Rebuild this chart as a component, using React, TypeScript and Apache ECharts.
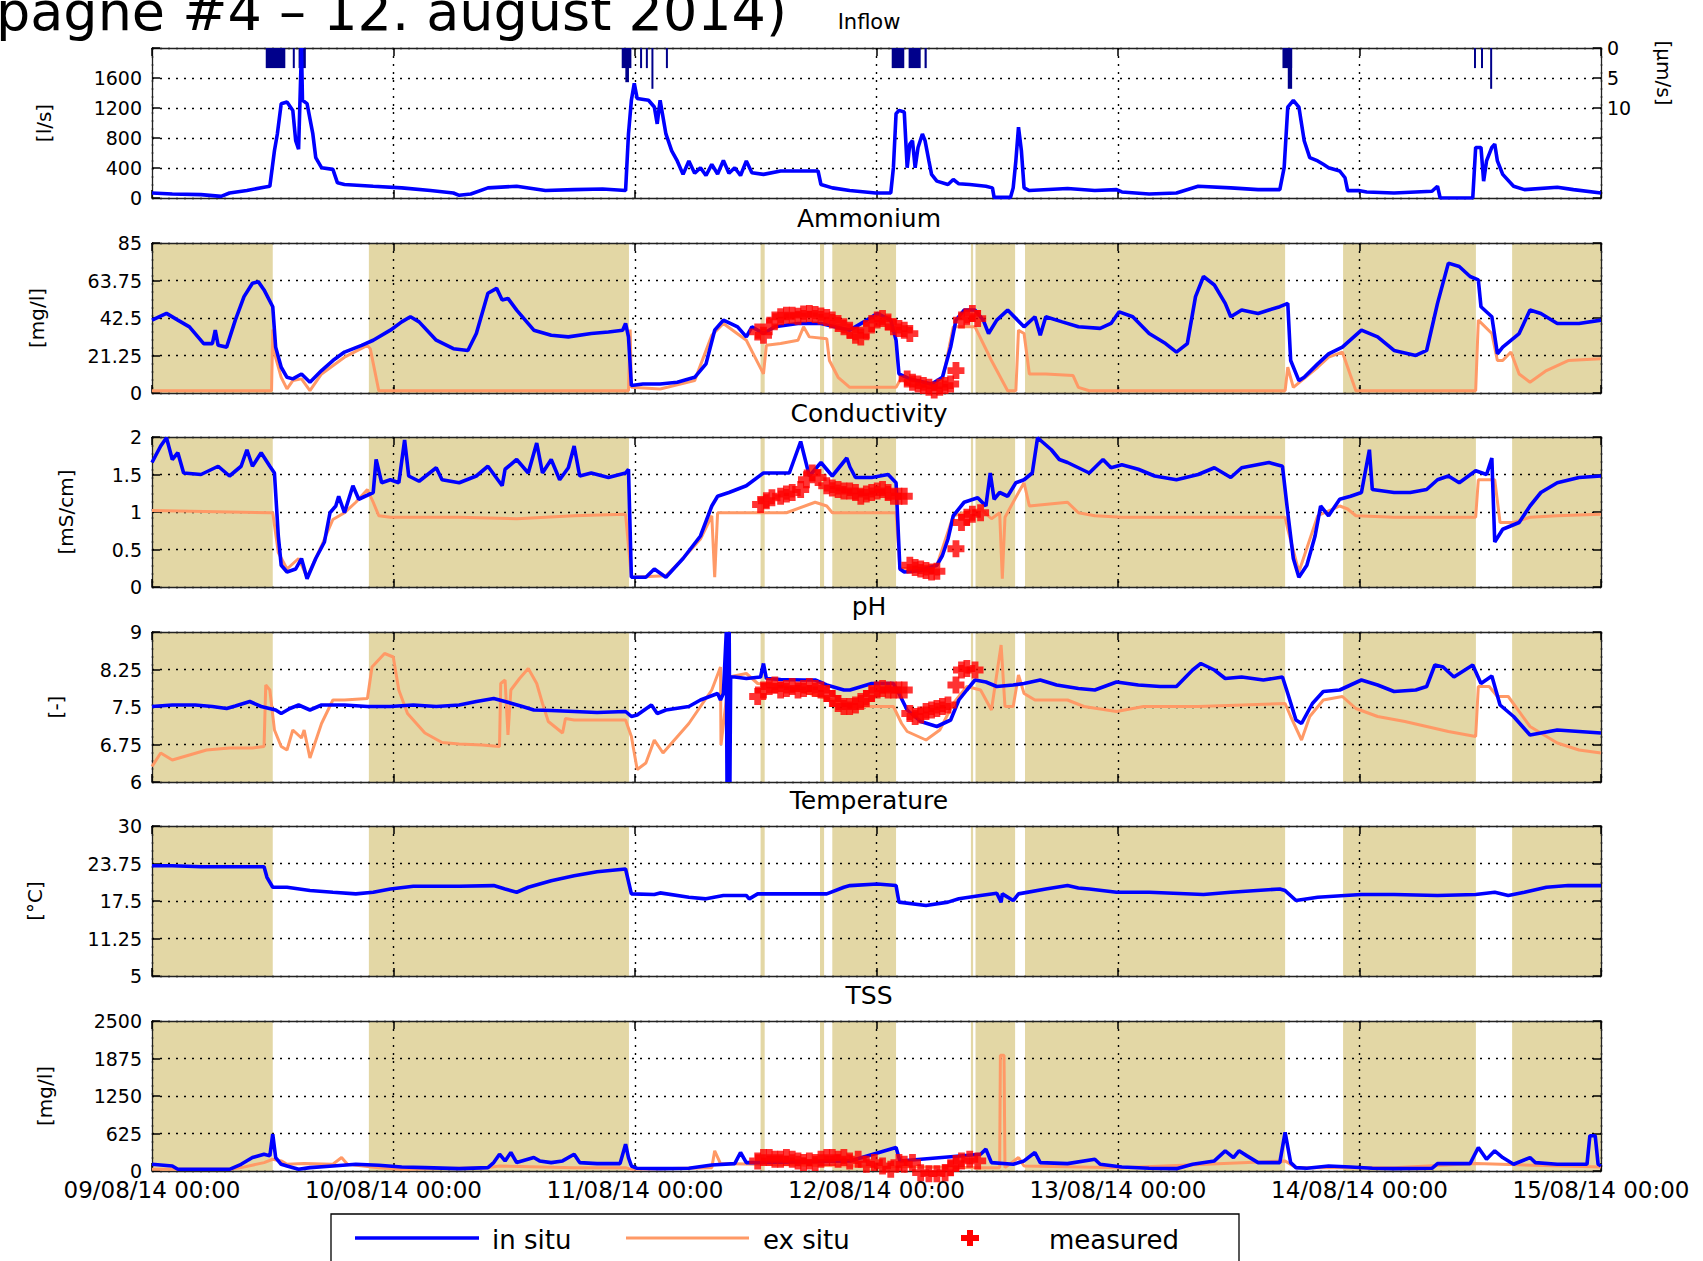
import React, { useEffect, useRef } from 'react';
import * as echarts from 'echarts';

// ---------------- texts ----------------
const HEADER = 'pagne #4 – 12. august 2014)';
const X_TICK_LABELS = ['09/08/14 00:00', '10/08/14 00:00', '11/08/14 00:00', '12/08/14 00:00', '13/08/14 00:00', '14/08/14 00:00', '15/08/14 00:00'];
const PANEL_TITLES = ['Inflow', 'Ammonium', 'Conductivity', 'pH', 'Temperature', 'TSS'];
const Y_UNITS = ['[l/s]', '[mg/l]', '[mS/cm]', '[-]', '[°C]', '[mg/l]'];
const RAIN_UNIT = '[µm/s]';
const LEGEND_LABELS = ['in situ', 'ex situ', 'measured'];

// y scales [min, max, interval]
const Y_SCALES = [[0, 2000, 400], [0, 85, 21.25], [0, 2, 0.5], [6, 9, 0.75], [5, 30, 6.25], [0, 2500, 625]];
const RAIN_SCALE = [0, 25, 5];
const Y_LABEL_LIMIT = [1600, 85, 2, 9, 30, 2500];
const RAIN_LABEL_LIMIT = 10;

// shaded periods (days since 09/08/14 00:00)
const BANDS = [[0, 0.5], [0.898, 1.975], [2.52, 2.537], [2.766, 2.783], [2.817, 3.081], [3.391, 3.4], [3.41, 3.574], [3.615, 4.692], [4.932, 5.482], [5.632, 6]];

// rain intensity [start day, end day, µm/s]
const RAIN = [[0.471, 0.552, 3.35], [0.583, 0.588, 3.35], [0.607, 0.612, 3.35], [0.618, 0.637, 3.35], [1.945, 1.985, 3.35], [1.96, 1.975, 5.7], [2.021, 2.026, 3.35], [2.045, 2.05, 3.35], [2.068, 2.073, 6.8], [2.128, 2.133, 3.35], [3.063, 3.115, 3.35], [3.133, 3.183, 3.35], [3.199, 3.208, 3.35], [4.681, 4.721, 3.35], [4.703, 4.721, 6.8], [5.474, 5.479, 3.35], [5.503, 5.508, 3.35], [5.541, 5.545, 6.8]];

const INFLOW_INSITU = [[0, 67], [0.084, 54], [0.203, 45], [0.286, 22], [0.321, 67], [0.393, 99], [0.464, 144], [0.488, 157], [0.507, 630], [0.519, 854], [0.535, 1258], [0.559, 1281], [0.583, 1168], [0.595, 764], [0.607, 650], [0.619, 2000], [0.623, 1303], [0.642, 1258], [0.666, 854], [0.678, 539], [0.702, 404], [0.749, 382], [0.768, 202], [0.797, 180], [0.916, 157], [1.034, 135], [1.153, 99], [1.248, 67], [1.272, 36], [1.32, 54], [1.391, 135], [1.51, 157], [1.629, 99], [1.748, 112], [1.866, 121], [1.961, 99], [1.973, 854], [1.985, 1303], [1.997, 1528], [2.009, 1326], [2.056, 1303], [2.08, 1213], [2.092, 989], [2.104, 1303], [2.128, 854], [2.152, 629], [2.175, 494], [2.199, 315], [2.223, 494], [2.247, 330], [2.271, 404], [2.294, 300], [2.318, 449], [2.342, 320], [2.366, 500], [2.389, 330], [2.413, 404], [2.437, 300], [2.461, 494], [2.484, 337], [2.532, 315], [2.603, 360], [2.698, 360], [2.758, 360], [2.77, 180], [2.817, 135], [2.889, 99], [2.996, 67], [3.059, 67], [3.07, 404], [3.081, 1124], [3.093, 1168], [3.115, 1146], [3.127, 404], [3.138, 719], [3.149, 764], [3.16, 404], [3.172, 674], [3.19, 854], [3.201, 764], [3.217, 494], [3.228, 315], [3.25, 225], [3.296, 180], [3.318, 247], [3.341, 189], [3.386, 180], [3.453, 157], [3.48, 135], [3.487, 9], [3.555, 9], [3.566, 135], [3.577, 494], [3.588, 944], [3.6, 629], [3.611, 135], [3.633, 99], [3.791, 126], [3.904, 99], [3.994, 112], [4.016, 81], [4.129, 54], [4.242, 67], [4.332, 157], [4.467, 135], [4.58, 112], [4.67, 112], [4.688, 404], [4.703, 1213], [4.726, 1303], [4.749, 1213], [4.771, 764], [4.794, 539], [4.827, 494], [4.85, 449], [4.872, 404], [4.918, 360], [4.94, 270], [4.951, 99], [4.996, 99], [5.03, 81], [5.143, 67], [5.3, 90], [5.323, 157], [5.334, 0], [5.469, 0], [5.481, 674], [5.503, 674], [5.514, 225], [5.526, 494], [5.548, 674], [5.56, 719], [5.571, 494], [5.593, 315], [5.638, 157], [5.683, 112], [5.819, 144], [5.886, 112], [6, 67]];

const NH4_INSITU = [[0, 41.3], [0.06, 45.1], [0.107, 41.3], [0.155, 37.5], [0.214, 28], [0.25, 28], [0.262, 35.6], [0.274, 27], [0.309, 26], [0.345, 41.3], [0.381, 54.6], [0.416, 62.2], [0.44, 63.1], [0.464, 58.4], [0.5, 48.9], [0.512, 26], [0.535, 14.6], [0.559, 8.9], [0.583, 8], [0.619, 10.8], [0.654, 6.1], [0.702, 12.7], [0.749, 18.4], [0.797, 23.2], [0.868, 27], [0.916, 29.9], [0.987, 35.6], [1.034, 40.3], [1.07, 43.2], [1.106, 40.3], [1.177, 29.9], [1.248, 25.1], [1.308, 24.1], [1.343, 33.7], [1.391, 56.5], [1.427, 59.3], [1.45, 52.7], [1.474, 53.6], [1.51, 47], [1.581, 35.6], [1.653, 32.7], [1.724, 31.8], [1.819, 33.7], [1.89, 34.6], [1.949, 35.6], [1.961, 39.4], [1.973, 31.8], [1.985, 4.2], [2.033, 5.1], [2.104, 5.1], [2.175, 6.1], [2.247, 8.9], [2.294, 16.5], [2.33, 35.6], [2.366, 41.3], [2.425, 37.5], [2.461, 31.8], [2.484, 37.5], [2.532, 33.7], [2.579, 37.5], [2.675, 39.4], [2.77, 39.4], [2.889, 35.6], [2.96, 41.3], [3.003, 45.1], [3.059, 41.3], [3.081, 29.9], [3.093, 10.8], [3.138, 8], [3.228, 5.1], [3.273, 8.9], [3.307, 26], [3.329, 41.3], [3.363, 47], [3.408, 47], [3.442, 41.3], [3.464, 33.7], [3.498, 41.3], [3.543, 47], [3.611, 37.5], [3.656, 43.2], [3.678, 32.7], [3.701, 43.2], [3.769, 40.3], [3.836, 37.5], [3.926, 36.6], [3.971, 39.4], [4.005, 46], [4.061, 43.2], [4.129, 33.7], [4.197, 28], [4.242, 23.2], [4.287, 28], [4.321, 54.6], [4.354, 66], [4.399, 61.2], [4.444, 50.8], [4.467, 43.2], [4.512, 47], [4.58, 45.1], [4.625, 47], [4.67, 48.9], [4.703, 50.8], [4.715, 18.4], [4.749, 7], [4.771, 8.9], [4.827, 16.5], [4.872, 22.2], [4.929, 26], [5.008, 35.6], [5.075, 31.8], [5.143, 24.1], [5.233, 21.3], [5.278, 24.1], [5.323, 50.8], [5.368, 73.6], [5.413, 71.7], [5.458, 66], [5.492, 64.1], [5.503, 48.9], [5.548, 43.2], [5.571, 22.2], [5.593, 26], [5.661, 33.7], [5.706, 47], [5.751, 45.1], [5.819, 39.4], [5.909, 39.4], [6, 41.3]];

const NH4_EXSITU = [[0, 1.3], [0.495, 1.3], [0.5, 36], [0.512, 20], [0.535, 8.9], [0.559, 2.3], [0.583, 7], [0.619, 8], [0.654, 1.3], [0.702, 10.8], [0.797, 20.3], [0.892, 27], [0.904, 25], [0.939, 1.3], [1.973, 1.3], [1.98, 36], [1.985, 3.2], [2.104, 2.3], [2.247, 7], [2.318, 32.7], [2.366, 39.4], [2.461, 29.9], [2.532, 10.8], [2.544, 27], [2.603, 28], [2.675, 29.9], [2.698, 37.5], [2.722, 31.8], [2.794, 30.8], [2.805, 18.4], [2.841, 8.9], [2.889, 3.2], [3.081, 3.2], [3.104, 8.9], [3.127, 5.1], [3.183, 3.2], [3.273, 7], [3.318, 37.5], [3.408, 37.5], [3.476, 18.4], [3.543, 1.3], [3.577, 1.3], [3.588, 35.6], [3.611, 33.7], [3.633, 10.8], [3.701, 10.8], [3.814, 9.9], [3.836, 3.2], [3.881, 1.3], [4.692, 1.3], [4.703, 14.6], [4.726, 3.2], [4.76, 7], [4.827, 14.6], [4.872, 20.3], [4.929, 23.2], [4.985, 1.3], [5.481, 1.3], [5.492, 41.3], [5.548, 33.7], [5.571, 18.4], [5.593, 18.4], [5.627, 23.2], [5.661, 10.8], [5.706, 6.1], [5.774, 12.7], [5.864, 18.4], [6, 19.4]];

const NH4_MEASURED = [[2.508, 34.6], [2.532, 32.7], [2.556, 37.5], [2.579, 41.3], [2.603, 43.2], [2.627, 44.1], [2.651, 44.1], [2.675, 43.5], [2.698, 44.7], [2.722, 45.1], [2.746, 44.5], [2.77, 43.7], [2.794, 42.8], [2.817, 41.3], [2.841, 39.4], [2.865, 37.5], [2.889, 35.6], [2.913, 32.7], [2.935, 31.8], [2.958, 35.6], [2.98, 39.4], [3.003, 41.3], [3.025, 42.2], [3.048, 40.3], [3.07, 37.5], [3.093, 36.5], [3.115, 35.6], [3.138, 33.7], [3.127, 8], [3.149, 6.1], [3.172, 5.1], [3.194, 4.2], [3.217, 3.2], [3.239, 1.7], [3.262, 3.2], [3.284, 4.2], [3.307, 5.1], [3.329, 12.7], [3.352, 41.3], [3.374, 43.2], [3.397, 45.1], [3.419, 42.2]];

const COND_INSITU = [[0, 1.66], [0.036, 1.88], [0.06, 1.99], [0.084, 1.7], [0.107, 1.79], [0.131, 1.52], [0.203, 1.5], [0.274, 1.61], [0.321, 1.48], [0.369, 1.61], [0.393, 1.83], [0.416, 1.61], [0.452, 1.79], [0.488, 1.61], [0.507, 1.52], [0.523, 0.68], [0.535, 0.29], [0.559, 0.2], [0.595, 0.24], [0.619, 0.38], [0.642, 0.11], [0.678, 0.38], [0.714, 0.6], [0.737, 0.99], [0.761, 1.08], [0.773, 1.21], [0.797, 0.99], [0.832, 1.35], [0.856, 1.17], [0.916, 1.26], [0.928, 1.7], [0.951, 1.39], [0.987, 1.43], [1.022, 1.39], [1.046, 1.96], [1.063, 1.48], [1.106, 1.41], [1.177, 1.59], [1.201, 1.43], [1.272, 1.39], [1.343, 1.48], [1.391, 1.61], [1.45, 1.35], [1.462, 1.57], [1.51, 1.7], [1.558, 1.52], [1.593, 1.92], [1.617, 1.52], [1.653, 1.7], [1.688, 1.43], [1.724, 1.59], [1.748, 1.88], [1.771, 1.48], [1.819, 1.52], [1.89, 1.46], [1.961, 1.52], [1.973, 1.57], [1.985, 0.13], [2.045, 0.13], [2.08, 0.24], [2.128, 0.13], [2.199, 0.38], [2.271, 0.68], [2.318, 1.08], [2.342, 1.21], [2.389, 1.26], [2.461, 1.35], [2.532, 1.52], [2.603, 1.52], [2.639, 1.52], [2.686, 1.94], [2.722, 1.48], [2.77, 1.66], [2.817, 1.48], [2.877, 1.72], [2.89, 1.6], [2.913, 1.46], [2.98, 1.46], [3.048, 1.5], [3.081, 1.39], [3.097, 0.24], [3.115, 0.2], [3.183, 0.22], [3.25, 0.29], [3.273, 0.42], [3.296, 0.64], [3.318, 0.95], [3.363, 1.13], [3.419, 1.19], [3.453, 1.08], [3.471, 1.52], [3.487, 1.17], [3.51, 1.26], [3.543, 1.21], [3.577, 1.39], [3.611, 1.43], [3.645, 1.52], [3.667, 1.99], [3.724, 1.83], [3.757, 1.7], [3.791, 1.66], [3.836, 1.59], [3.881, 1.52], [3.938, 1.7], [3.971, 1.59], [4.016, 1.63], [4.084, 1.57], [4.152, 1.48], [4.242, 1.43], [4.332, 1.5], [4.399, 1.59], [4.467, 1.46], [4.512, 1.59], [4.625, 1.66], [4.681, 1.61], [4.703, 0.99], [4.726, 0.38], [4.749, 0.13], [4.782, 0.29], [4.816, 0.68], [4.839, 1.08], [4.872, 0.95], [4.918, 1.17], [4.963, 1.21], [5.008, 1.26], [5.041, 1.83], [5.053, 1.3], [5.143, 1.26], [5.21, 1.26], [5.278, 1.3], [5.323, 1.43], [5.368, 1.48], [5.413, 1.39], [5.481, 1.55], [5.526, 1.5], [5.548, 1.72], [5.56, 0.6], [5.593, 0.77], [5.661, 0.86], [5.706, 1.08], [5.751, 1.26], [5.819, 1.39], [5.909, 1.46], [6, 1.48]];

const COND_EXSITU = [[0, 1.02], [0.488, 0.99], [0.5, 0.99], [0.523, 0.46], [0.559, 0.24], [0.607, 0.38], [0.642, 0.13], [0.702, 0.55], [0.749, 0.9], [0.797, 0.99], [0.844, 1.13], [0.892, 1.3], [0.916, 1.13], [0.939, 0.95], [0.987, 0.93], [1.272, 0.93], [1.51, 0.91], [1.748, 0.95], [1.961, 0.97], [1.985, 0.13], [2.128, 0.15], [2.199, 0.38], [2.271, 0.64], [2.318, 0.95], [2.33, 0.13], [2.342, 0.99], [2.532, 0.99], [2.627, 0.99], [2.746, 1.13], [2.794, 1.08], [2.817, 0.99], [3.081, 0.99], [3.097, 0.24], [3.25, 0.29], [3.318, 0.95], [3.363, 0.99], [3.431, 1.04], [3.476, 0.91], [3.51, 0.99], [3.521, 0.11], [3.532, 0.93], [3.588, 1.26], [3.611, 1.39], [3.633, 1.08], [3.791, 1.13], [3.836, 0.99], [3.904, 0.95], [4.016, 0.93], [4.692, 0.93], [4.703, 0.77], [4.749, 0.2], [4.827, 0.95], [4.918, 1.08], [4.951, 1.04], [4.985, 0.95], [5.143, 0.93], [5.481, 0.93], [5.492, 1.43], [5.56, 1.43], [5.582, 0.86], [5.638, 0.86], [5.706, 0.93], [5.819, 0.95], [6, 0.97]];

const COND_MEASURED = [[2.52, 1.1], [2.544, 1.15], [2.567, 1.19], [2.603, 1.21], [2.627, 1.24], [2.651, 1.26], [2.686, 1.3], [2.71, 1.43], [2.734, 1.52], [2.758, 1.46], [2.794, 1.35], [2.817, 1.32], [2.841, 1.3], [2.865, 1.28], [2.889, 1.28], [2.913, 1.26], [2.935, 1.21], [2.958, 1.24], [2.98, 1.26], [3.003, 1.28], [3.025, 1.3], [3.048, 1.26], [3.07, 1.21], [3.093, 1.21], [3.115, 1.21], [3.138, 0.29], [3.16, 0.26], [3.183, 0.24], [3.205, 0.22], [3.228, 0.2], [3.25, 0.21], [3.329, 0.51], [3.352, 0.86], [3.374, 0.93], [3.397, 0.97], [3.431, 0.99]];

const PH_INSITU = [[0, 7.51], [0.084, 7.54], [0.179, 7.54], [0.25, 7.51], [0.309, 7.47], [0.345, 7.52], [0.405, 7.61], [0.452, 7.51], [0.512, 7.44], [0.535, 7.37], [0.571, 7.47], [0.607, 7.54], [0.654, 7.44], [0.702, 7.54], [0.797, 7.54], [0.892, 7.51], [0.987, 7.51], [1.082, 7.54], [1.177, 7.51], [1.272, 7.54], [1.343, 7.61], [1.415, 7.67], [1.462, 7.61], [1.534, 7.51], [1.581, 7.44], [1.653, 7.43], [1.748, 7.41], [1.843, 7.39], [1.961, 7.41], [1.985, 7.31], [2.009, 7.34], [2.068, 7.54], [2.092, 7.37], [2.128, 7.44], [2.223, 7.51], [2.271, 7.64], [2.342, 7.77], [2.354, 7.64], [2.366, 7.77], [2.378, 9], [2.381, 6], [2.384, 9], [2.387, 6], [2.39, 9], [2.393, 6], [2.396, 8.1], [2.413, 8.1], [2.461, 8.07], [2.52, 8.1], [2.532, 8.37], [2.544, 8.07], [2.603, 8.05], [2.698, 8.04], [2.746, 8.04], [2.794, 7.94], [2.865, 7.84], [2.89, 7.84], [2.98, 7.97], [3.07, 7.97], [3.093, 7.77], [3.127, 7.44], [3.183, 7.21], [3.25, 7.11], [3.307, 7.24], [3.341, 7.64], [3.374, 7.84], [3.408, 8.04], [3.453, 8], [3.498, 7.91], [3.566, 7.94], [3.611, 7.97], [3.678, 8.04], [3.746, 7.94], [3.836, 7.87], [3.904, 7.84], [3.994, 8], [4.084, 7.94], [4.174, 7.91], [4.242, 7.91], [4.309, 8.24], [4.343, 8.37], [4.399, 8.24], [4.444, 8.07], [4.512, 8.1], [4.602, 8.04], [4.681, 8.1], [4.703, 7.77], [4.737, 7.24], [4.76, 7.17], [4.805, 7.57], [4.85, 7.81], [4.918, 7.84], [5.008, 8.04], [5.075, 7.94], [5.143, 7.81], [5.233, 7.84], [5.278, 7.91], [5.312, 8.34], [5.346, 8.3], [5.391, 8.1], [5.469, 8.34], [5.503, 7.97], [5.548, 8.12], [5.582, 7.54], [5.638, 7.31], [5.706, 6.94], [5.751, 6.98], [5.819, 7.04], [5.909, 7.01], [6, 6.98]];

const PH_EXSITU = [[0, 6.31], [0.036, 6.58], [0.084, 6.44], [0.155, 6.54], [0.226, 6.64], [0.321, 6.68], [0.416, 6.68], [0.464, 6.71], [0.471, 7.94], [0.488, 7.84], [0.507, 7.04], [0.535, 6.71], [0.559, 6.64], [0.583, 7.04], [0.619, 6.88], [0.63, 7.04], [0.654, 6.48], [0.702, 7.17], [0.749, 7.64], [0.797, 7.64], [0.892, 7.67], [0.911, 8.3], [0.963, 8.57], [0.999, 8.5], [1.022, 7.84], [1.058, 7.37], [1.13, 6.98], [1.201, 6.79], [1.272, 6.76], [1.367, 6.74], [1.439, 6.71], [1.444, 7.97], [1.462, 8.04], [1.474, 6.94], [1.486, 7.84], [1.522, 8.07], [1.558, 8.27], [1.593, 7.97], [1.617, 7.57], [1.641, 7.21], [1.7, 6.98], [1.712, 7.27], [1.748, 7.24], [1.961, 7.24], [1.985, 6.91], [2.009, 6.25], [2.045, 6.38], [2.08, 6.84], [2.116, 6.58], [2.223, 7.17], [2.318, 7.84], [2.354, 8.3], [2.356, 6.74], [2.389, 8.1], [2.461, 8.17], [2.508, 7.97], [2.603, 7.94], [2.817, 7.64], [2.89, 7.51], [3.07, 7.51], [3.104, 7.17], [3.127, 7.01], [3.205, 6.84], [3.262, 7.04], [3.318, 7.57], [3.374, 7.91], [3.431, 7.84], [3.476, 7.44], [3.516, 8.74], [3.532, 7.51], [3.566, 7.51], [3.588, 8.14], [3.611, 7.77], [3.656, 7.64], [3.791, 7.64], [3.859, 7.51], [3.994, 7.41], [4.106, 7.51], [4.332, 7.51], [4.692, 7.57], [4.715, 7.31], [4.76, 6.84], [4.794, 7.31], [4.85, 7.64], [4.929, 7.71], [4.985, 7.47], [5.075, 7.31], [5.188, 7.21], [5.368, 7.01], [5.481, 6.91], [5.492, 7.91], [5.537, 7.91], [5.571, 7.71], [5.616, 7.71], [5.706, 7.11], [5.819, 6.78], [5.909, 6.64], [6, 6.58]];

const PH_MEASURED = [[2.508, 7.71], [2.532, 7.84], [2.556, 7.91], [2.579, 7.94], [2.603, 7.84], [2.627, 7.87], [2.651, 7.91], [2.675, 7.84], [2.698, 7.87], [2.722, 7.91], [2.746, 7.87], [2.77, 7.84], [2.794, 7.77], [2.817, 7.67], [2.841, 7.57], [2.865, 7.51], [2.889, 7.51], [2.913, 7.54], [2.935, 7.61], [2.958, 7.67], [2.98, 7.77], [3.003, 7.84], [3.025, 7.87], [3.048, 7.84], [3.07, 7.84], [3.093, 7.84], [3.115, 7.84], [3.138, 7.37], [3.16, 7.31], [3.183, 7.34], [3.205, 7.41], [3.228, 7.44], [3.25, 7.47], [3.273, 7.51], [3.296, 7.54], [3.329, 7.94], [3.352, 8.24], [3.374, 8.27], [3.408, 8.24]];

const TEMP_INSITU = [[0, 23.38], [0.084, 23.38], [0.203, 23.21], [0.321, 23.21], [0.464, 23.21], [0.476, 21.45], [0.5, 19.79], [0.559, 19.79], [0.654, 19.24], [0.749, 18.96], [0.844, 18.69], [0.916, 18.96], [0.987, 19.51], [1.082, 19.96], [1.272, 19.96], [1.415, 20.07], [1.462, 19.51], [1.51, 18.96], [1.558, 19.79], [1.653, 20.89], [1.748, 21.72], [1.843, 22.38], [1.961, 22.83], [1.985, 18.69], [2.08, 18.58], [2.104, 18.85], [2.223, 18.13], [2.294, 17.86], [2.366, 18.41], [2.461, 18.41], [2.473, 17.86], [2.508, 18.69], [2.698, 18.69], [2.794, 18.69], [2.865, 19.79], [2.89, 20.07], [3.003, 20.34], [3.081, 20.07], [3.093, 17.31], [3.205, 16.76], [3.296, 17.31], [3.341, 17.86], [3.431, 18.41], [3.498, 18.8], [3.516, 17.31], [3.521, 18.69], [3.566, 17.58], [3.588, 18.69], [3.701, 19.51], [3.791, 20.07], [3.836, 19.68], [3.881, 19.51], [3.994, 18.96], [4.129, 18.96], [4.354, 18.58], [4.467, 18.96], [4.67, 19.51], [4.692, 19.24], [4.737, 17.58], [4.827, 18.13], [4.94, 18.41], [5.008, 18.58], [5.143, 18.58], [5.323, 18.41], [5.481, 18.58], [5.56, 18.96], [5.616, 18.41], [5.683, 18.96], [5.774, 19.79], [5.864, 20.07], [6, 20.07]];

const TSS_INSITU = [[0, 112], [0.084, 84], [0.107, 28], [0.321, 28], [0.369, 112], [0.416, 224], [0.464, 280], [0.488, 252], [0.5, 615], [0.512, 224], [0.535, 112], [0.559, 84], [0.607, 28], [0.654, 56], [0.749, 84], [0.844, 112], [0.939, 95], [1.034, 67], [1.13, 56], [1.272, 39], [1.391, 56], [1.415, 140], [1.439, 280], [1.462, 168], [1.486, 308], [1.51, 140], [1.581, 224], [1.605, 168], [1.653, 140], [1.7, 168], [1.748, 280], [1.771, 140], [1.843, 123], [1.938, 123], [1.961, 447], [1.973, 224], [1.985, 84], [2.009, 45], [2.104, 39], [2.223, 45], [2.318, 101], [2.413, 123], [2.437, 308], [2.461, 140], [2.508, 140], [2.89, 168], [3.081, 392], [3.097, 168], [3.431, 280], [3.453, 364], [3.476, 140], [3.566, 112], [3.611, 168], [3.656, 308], [3.678, 140], [3.791, 123], [3.904, 196], [3.926, 112], [4.016, 67], [4.129, 45], [4.242, 39], [4.309, 112], [4.399, 168], [4.444, 336], [4.478, 224], [4.501, 336], [4.534, 252], [4.58, 140], [4.67, 140], [4.692, 643], [4.715, 140], [4.737, 56], [4.782, 45], [4.872, 84], [4.963, 67], [5.053, 45], [5.143, 39], [5.3, 45], [5.323, 123], [5.458, 123], [5.492, 392], [5.526, 196], [5.56, 336], [5.593, 224], [5.638, 112], [5.706, 224], [5.728, 140], [5.819, 112], [5.942, 112], [5.954, 587], [5.976, 587], [5.988, 112], [6, 84]];

const TSS_EXSITU = [[0, 28], [0.321, 28], [0.369, 56], [0.464, 140], [0.5, 196], [0.535, 168], [0.559, 112], [0.63, 123], [0.749, 112], [0.785, 224], [0.809, 112], [0.939, 56], [1.034, 28], [1.391, 56], [1.439, 84], [1.748, 56], [1.961, 56], [1.985, 28], [2.318, 56], [2.33, 336], [2.354, 123], [2.508, 112], [2.89, 84], [3.431, 56], [3.51, 56], [3.513, 1930], [3.528, 1930], [3.532, 56], [3.588, 224], [3.611, 84], [4.016, 56], [4.692, 168], [4.737, 56], [5.143, 56], [5.481, 123], [6, 67]];

const TSS_MEASURED = [[2.508, 168], [2.532, 224], [2.556, 224], [2.579, 196], [2.603, 196], [2.627, 224], [2.651, 196], [2.675, 168], [2.698, 140], [2.722, 168], [2.746, 140], [2.77, 196], [2.794, 224], [2.817, 224], [2.841, 196], [2.865, 224], [2.889, 168], [2.924, 196], [2.958, 112], [2.991, 140], [3.025, 84], [3.059, 28], [3.093, 140], [3.115, 112], [3.149, 140], [3.183, -28], [3.217, -45], [3.25, -45], [3.284, -28], [3.307, 56], [3.329, 123], [3.352, 168], [3.386, 196], [3.419, 168]];

// ---------------- style ----------------
const FONT = 'DejaVu Sans';
const BLUE = '#0000FF';
const ORANGE = '#FF9966';
const RED = '#FF0000';
const NAVY = '#00008B';
const TAN = '#E3D7A5';
const GRID_LEFT = 152;
const GRID_WIDTH = 1449;
const GRID_TOPS = [48, 243, 437, 632, 826, 1021];
const GRID_HEIGHT = 150;
const NAME_GAPS = [98, 105, 76, 86, 107, 97];
const TITLE_Y = [22, 218, 413, 606, 800, 995];
const PLUS = 'path://M3,0L7,0L7,3L10,3L10,7L7,7L7,10L3,10L3,7L0,7L0,3L3,3Z';

const fmtNum = (v: number) => String(Number(v.toFixed(4)));

function buildOption() {
  const grids: any[] = [];
  const xAxes: any[] = [];
  const yAxes: any[] = [];
  const series: any[] = [];

  const panelData: any[] = [
    { insitu: INFLOW_INSITU },
    { insitu: NH4_INSITU, exsitu: NH4_EXSITU, measured: NH4_MEASURED },
    { insitu: COND_INSITU, exsitu: COND_EXSITU, measured: COND_MEASURED },
    { insitu: PH_INSITU, exsitu: PH_EXSITU, measured: PH_MEASURED },
    { insitu: TEMP_INSITU },
    { insitu: TSS_INSITU, exsitu: TSS_EXSITU, measured: TSS_MEASURED },
  ];

  const dotted = { color: '#000', type: [2, 6], width: 1.4 };

  for (let i = 0; i < 6; i++) {
    const [mn, mx, iv] = Y_SCALES[i];
    const off = mn % iv === 0 ? 0 : mn;
    const shift = (arr: number[][]) => arr.map((p) => [p[0], p[1] - off]);
    grids.push({ left: GRID_LEFT, top: GRID_TOPS[i], width: GRID_WIDTH, height: GRID_HEIGHT });

    const xBase = {
      type: 'value', gridIndex: i, min: 0, max: 6, interval: 1, z: 1,
      axisLine: { show: true, onZero: false, lineStyle: { color: '#222', width: 1.3 } },
      axisTick: { show: true, inside: true, length: 8, lineStyle: { color: '#000', width: 1.5 } },
    };
    xAxes.push({
      ...xBase, position: 'bottom',
      axisLabel: {
        show: i === 5, margin: 10, color: '#000', fontFamily: FONT, fontSize: 23, lineHeight: 18,
        showMinLabel: true, showMaxLabel: true,
        formatter: (v: number) => X_TICK_LABELS[Math.round(v)] ?? '',
      },
      splitLine: { show: true, lineStyle: dotted },
    });
    xAxes.push({ ...xBase, position: 'top', axisLabel: { show: false }, splitLine: { show: false } });

    const yBase = {
      type: 'value', gridIndex: i, min: mn - off, max: mx - off, interval: iv, z: 1,
      axisLine: { show: true, onZero: false, lineStyle: { color: '#222', width: 1.3 } },
      axisTick: { show: true, inside: true, length: 8, lineStyle: { color: '#000', width: 1.5 } },
    };
    yAxes.push({
      ...yBase, position: 'left',
      axisLabel: {
        color: '#000', fontFamily: FONT, fontSize: 19, margin: 10, lineHeight: 15,
        showMinLabel: true, showMaxLabel: true,
        formatter: (v: number) => (v + off > Y_LABEL_LIMIT[i] + 1e-9 ? '' : fmtNum(v + off)),
      },
      splitLine: { show: true, lineStyle: dotted },
      name: Y_UNITS[i], nameLocation: 'middle', nameGap: NAME_GAPS[i], nameRotate: 90,
      nameTextStyle: { color: '#000', fontFamily: FONT, fontSize: 20 },
    });
    if (i === 0) {
      yAxes.push({
        ...yBase, position: 'right', min: RAIN_SCALE[0], max: RAIN_SCALE[1], interval: RAIN_SCALE[2], inverse: true,
        axisLabel: {
          color: '#000', fontFamily: FONT, fontSize: 19, margin: 6, lineHeight: 15, showMinLabel: true,
          formatter: (v: number) => (v > RAIN_LABEL_LIMIT ? '' : fmtNum(v)),
        },
        splitLine: { show: false },
      });
    } else {
      yAxes.push({ ...yBase, position: 'right', axisLabel: { show: false }, splitLine: { show: false } });
    }

    const xi = 2 * i;
    const yi = 2 * i;
    const d = panelData[i];

    if (i > 0) {
      series.push({
        type: 'custom', xAxisIndex: xi, yAxisIndex: yi, z: 0, silent: true,
        encode: { x: [0, 1], y: 2 },
        data: BANDS.map((b) => [b[0], b[1], mn - off]),
        renderItem: (params: any, api: any) => {
          const a = api.coord([api.value(0), api.value(2)]);
          const b = api.coord([api.value(1), api.value(2)]);
          const cs = params.coordSys;
          return { type: 'rect', shape: { x: a[0], y: cs.y, width: Math.max(b[0] - a[0], 2), height: cs.height }, style: { fill: TAN } };
        },
      });
    } else {
      series.push({
        type: 'custom', xAxisIndex: 0, yAxisIndex: 1, z: 2, silent: true,
        encode: { x: [0, 1], y: 2 },
        data: RAIN,
        renderItem: (params: any, api: any) => {
          const a = api.coord([api.value(0), 0]);
          const b = api.coord([api.value(1), api.value(2)]);
          return {
            type: 'rect',
            shape: { x: a[0], y: Math.min(a[1], b[1]), width: Math.max(b[0] - a[0], 2), height: Math.abs(b[1] - a[1]) },
            style: { fill: NAVY },
          };
        },
      });
    }

    if (d.exsitu) {
      series.push({
        type: 'line', name: LEGEND_LABELS[1], xAxisIndex: xi, yAxisIndex: yi, z: 2,
        data: shift(d.exsitu), showSymbol: false, symbol: 'none',
        lineStyle: { color: ORANGE, width: 3 }, itemStyle: { color: ORANGE },
      });
    }
    series.push({
      type: 'line', name: LEGEND_LABELS[0], xAxisIndex: xi, yAxisIndex: yi, z: 3,
      data: shift(d.insitu), showSymbol: false, symbol: 'none',
      lineStyle: { color: BLUE, width: 3.6 }, itemStyle: { color: BLUE },
    });
    if (d.measured) {
      series.push({
        type: 'scatter', name: LEGEND_LABELS[2], xAxisIndex: xi, yAxisIndex: yi, z: 4, clip: false,
        data: shift(d.measured), symbol: PLUS, symbolSize: 17,
        itemStyle: { color: RED },
      });
    }
  }

  const graphic: any[] = [
    {
      type: 'text', x: -4, y: 11, silent: true,
      style: { text: HEADER, font: `54px "${FONT}"`, fill: '#000', align: 'left', verticalAlign: 'middle' },
    },
    ...PANEL_TITLES.map((t, i) => ({
      type: 'text', x: 869, y: TITLE_Y[i], silent: true,
      style: { text: t, font: `${i === 0 ? 21 : 25}px "${FONT}"`, fill: '#000', align: 'center', verticalAlign: 'middle' },
    })),
    {
      type: 'text', x: 1664, y: 73, rotation: -Math.PI / 2, silent: true,
      style: { text: RAIN_UNIT, font: `20px "${FONT}"`, fill: '#000', align: 'center', verticalAlign: 'middle' },
    },
    // legend
    { type: 'rect', shape: { x: 331, y: 1214, width: 908, height: 70 }, style: { fill: '#fff', stroke: '#000', lineWidth: 1.3 } },
    { type: 'line', shape: { x1: 355, y1: 1238, x2: 479, y2: 1238 }, style: { stroke: BLUE, lineWidth: 3.6 } },
    { type: 'text', x: 492, y: 1240, style: { text: LEGEND_LABELS[0], font: `26px "${FONT}"`, fill: '#000', verticalAlign: 'middle' } },
    { type: 'line', shape: { x1: 626, y1: 1238, x2: 749, y2: 1238 }, style: { stroke: ORANGE, lineWidth: 3 } },
    { type: 'text', x: 763, y: 1240, style: { text: LEGEND_LABELS[1], font: `26px "${FONT}"`, fill: '#000', verticalAlign: 'middle' } },
    {
      type: 'polygon',
      shape: { points: [[967, 1230], [973, 1230], [973, 1235], [979, 1235], [979, 1241], [973, 1241], [973, 1246], [967, 1246], [967, 1241], [961, 1241], [961, 1235], [967, 1235]] },
      style: { fill: RED },
    },
    { type: 'text', x: 1049, y: 1240, style: { text: LEGEND_LABELS[2], font: `26px "${FONT}"`, fill: '#000', verticalAlign: 'middle' } },
  ];

  return {
    animation: false,
    backgroundColor: '#fff',
    textStyle: { fontFamily: FONT },
    grid: grids,
    xAxis: xAxes,
    yAxis: yAxes,
    series,
    graphic,
  };
}

export default function App() {
  const ref = useRef<HTMLDivElement>(null);
  useEffect(() => {
    if (!ref.current) return;
    const chart = echarts.init(ref.current, null, { renderer: 'svg' });
    chart.setOption(buildOption() as any);
    return () => chart.dispose();
  }, []);
  return (
    <div
      ref={ref}
      style={{ position: 'fixed', left: 0, top: 0, width: 1703, height: 1261, background: '#fff' }}
    />
  );
}
